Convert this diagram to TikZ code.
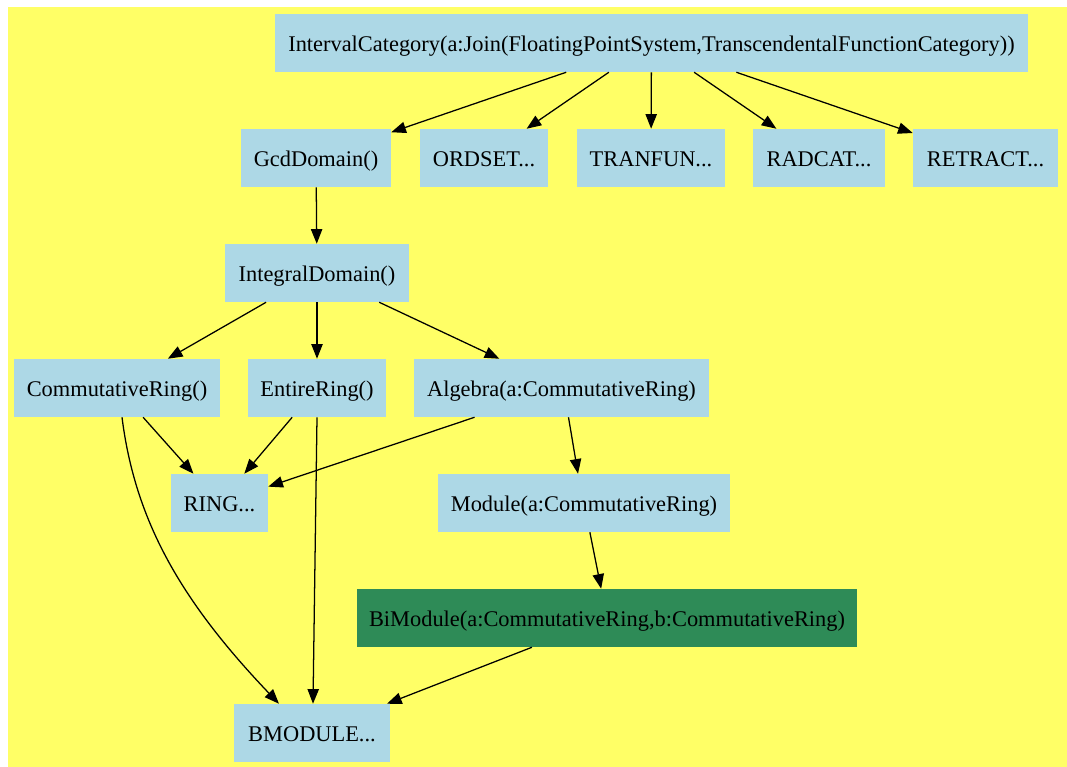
\documentclass[tikz,border=0pt]{standalone}
\usepackage{fontspec}
\setmainfont{Liberation Serif}
\usetikzlibrary{arrows.meta,calc}
\definecolor{bgyellow}{HTML}{FFFF66}
\definecolor{nodeblue}{HTML}{ADD8E6}
\definecolor{seagreen}{HTML}{2E8B57}
\begin{document}
\begin{tikzpicture}[x=0.75pt,y=-0.75pt,
  box/.style={fill=nodeblue, inner sep=0pt, minimum height=43.5pt, text height=12.8pt, text depth=0pt, font=\fontsize{16.8}{19}\selectfont},
  gbox/.style={box, fill=seagreen},
  edge/.style={draw=black, line width=0.95pt, -{Triangle[length=11pt,width=8.5pt]}}]
\useasboundingbox (0,0) rectangle (1067,767);
\fill[white] (0,0) rectangle (1067,767);
\fill[bgyellow] (8,7) rectangle (1067,767);

\node[box, minimum width=753*0.75pt] (ic) at (651.5,43) {IntervalCategory(a:Join(FloatingPointSystem,TranscendentalFunctionCategory))};
\node[box, minimum width=150*0.75pt] (gcd) at (316,158) {GcdDomain()};
\node[box, minimum width=128*0.75pt] (ord) at (484,158) {ORDSET...};
\node[box, minimum width=148*0.75pt] (tran) at (651,158) {TRANFUN...};
\node[box, minimum width=132*0.75pt] (rad) at (819,158) {RADCAT...};
\node[box, minimum width=145*0.75pt] (ret) at (985.5,158) {RETRACT...};
\node[box, minimum width=184*0.75pt] (int) at (317,273) {IntegralDomain()};
\node[box, minimum width=206*0.75pt] (comm) at (117,388) {CommutativeRing()};
\node[box, minimum width=138*0.75pt] (ent) at (317,388) {EntireRing()};
\node[box, minimum width=295*0.75pt] (alg) at (561.5,388) {Algebra(a:CommutativeRing)};
\node[box, minimum width=97*0.75pt] (ring) at (219.5,503) {RING...};
\node[box, minimum width=292*0.75pt] (mod) at (584,503) {Module(a:CommutativeRing)};
\node[gbox, minimum width=500*0.75pt] (bi) at (607,618) {BiModule(a:CommutativeRing,b:CommutativeRing)};
\node[box, minimum width=156*0.75pt] (bm) at (312,733) {BMODULE...};

\draw[edge] (ic) -- (gcd);
\draw[edge] (ic) -- (ord);
\draw[edge] (ic) -- (tran);
\draw[edge] (ic) -- (rad);
\draw[edge] (ic) -- (ret);
\draw[edge] (gcd) -- (int);
\draw[edge] (int) -- (comm);
\draw[edge] (int) -- (ent);
\draw[edge] (int) -- (alg);
\draw[edge] (comm) -- (ring);
\draw[edge] ($(comm.south)+(5,0)$) .. controls (135,520) and (180,600) .. ($(bm.north)+(-33,0)$);
\draw[edge] (ent) -- (ring);
\draw[edge] ($(ent.south)$) -- ($(bm.north)+(1,0)$);
\draw[edge] (alg) -- (ring);
\draw[edge] ($(alg.south)+(7,0)$) -- ($(mod.north)+(-6,0)$);
\draw[edge] (mod) -- (bi);
\draw[edge] (bi) -- (bm);
\end{tikzpicture}
\end{document}
